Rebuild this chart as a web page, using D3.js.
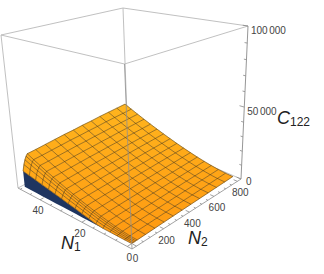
<!DOCTYPE html>
<html>
<head>
<meta charset="utf-8">
<script src="https://cdn.jsdelivr.net/npm/d3@7"></script>
<style>
body { margin: 0; background: #fff; }
text { font-family: "Liberation Sans", sans-serif; fill: #444; font-size: 10px; }
.lab { font-size: 18px; font-style: italic; fill: #222; }
.sub { font-size: 12px; fill: #222; }
</style>
</head>
<body>
<div id="chart"></div>
<script>
// mesh positions
var n1Mesh = [0, 3.125, 6.25, 9.375, 12.5, 15.625, 18.75, 21.875, 25, 28.125, 31.25, 34.375, 37.5, 40.625, 43.75, 46.875, 50];
var n2Mesh = [0, 10, 20, 30, 40, 100, 170, 240, 310, 380, 450, 520, 590, 660, 730, 800];

// C122, one row per n1Mesh entry, one column per n2Mesh entry (estimated)
var c122 = [
  [0, 30, 60, 80, 100, 250, 425, 600, 775, 950, 1125, 1300, 1475, 1650, 1825, 2000],
  [0, 104, 177, 229, 260, 497, 666, 835, 1005, 1172, 1341, 1508, 1677, 1843, 2010, 2177],
  [0, 316, 537, 695, 790, 1017, 1186, 1355, 1523, 1684, 1853, 2015, 2184, 2345, 2506, 2666],
  [0, 604, 1027, 1329, 1510, 1728, 1900, 2074, 2246, 2403, 2575, 2732, 2904, 3062, 3220, 3377],
  [0, 956, 1625, 2103, 2390, 2602, 2781, 2960, 3138, 3294, 3473, 3628, 3807, 3963, 4118, 4272],
  [500, 1668, 2486, 3070, 3420, 3626, 3815, 4004, 4192, 4347, 4535, 4690, 4879, 5033, 5188, 5342],
  [1500, 2732, 3594, 4210, 4580, 4782, 4983, 5184, 5385, 5540, 5741, 5897, 6097, 6252, 6408, 6563],
  [2500, 3844, 4785, 5457, 5860, 6060, 6275, 6491, 6706, 6863, 7079, 7236, 7452, 7608, 7766, 7923],
  [3500, 5004, 6057, 6809, 7260, 7458, 7691, 7923, 8156, 8316, 8549, 8709, 8942, 9101, 9262, 9422],
  [4500, 6208, 7404, 8258, 8770, 8967, 9219, 9472, 9723, 9888, 10139, 10304, 10555, 10720, 10884, 11048],
  [5500, 7448, 8812, 9786, 10370, 10568, 10840, 11114, 11387, 11556, 11829, 11999, 12271, 12441, 12610, 12779],
  [6500, 8728, 10288, 11402, 12070, 12269, 12565, 12862, 13157, 13333, 13629, 13804, 14100, 14276, 14451, 14626],
  [7500, 10048, 11832, 13106, 13870, 14072, 14392, 14714, 15035, 15218, 15538, 15721, 16042, 16225, 16407, 16589],
  [8500, 11408, 13444, 14898, 15770, 15975, 16323, 16672, 17019, 17210, 17558, 17749, 18097, 18287, 18478, 18668],
  [9500, 12808, 15124, 16778, 17770, 17979, 18356, 18734, 19111, 19311, 19688, 19888, 20264, 20464, 20664, 20863],
  [10500, 14236, 16851, 18719, 19840, 20054, 20462, 20870, 21277, 21486, 21894, 22103, 22511, 22721, 22930, 23139],
  [11500, 15700, 18640, 20740, 22000, 22220, 22660, 23100, 23540, 23760, 24200, 24420, 24860, 25080, 25300, 25520]
];

var n1Ticks = [0, 20, 40];
var n2Ticks = [0, 200, 400, 600, 800];
var zTicks = [0, 50000, 100000];
var n1Minor = d3.range(0, 51, 5);
var n2Minor = d3.range(0, 801, 50);
var zMinor = d3.range(0, 100001, 10000);

var width = 324, height = 274;

var svg = d3.select("#chart").append("svg")
    .attr("width", width)
    .attr("height", height);

var uScale = d3.scaleLinear().domain([-2, 51.2]).range([0, 1]);
var vScale = d3.scaleLinear().domain([-32, 832]).range([0, 1]);
var wScale = d3.scaleLinear().domain([0, 100000]).range([0, 1]);

// camera: the box corners on screen, order front, left, back, right
var floorQuad = [[132, 249], [18, 188], [127.5, 130], [241, 179]];
var topQuad = [[124.5, 64], [1, 35], [123, 8], [248, 26]];

function squareToQuad(q) {
    var dx1 = q[1][0] - q[2][0], dx2 = q[3][0] - q[2][0], sx = q[0][0] - q[1][0] + q[2][0] - q[3][0];
    var dy1 = q[1][1] - q[2][1], dy2 = q[3][1] - q[2][1], sy = q[0][1] - q[1][1] + q[2][1] - q[3][1];
    var det = dx1 * dy2 - dx2 * dy1;
    var g = (sx * dy2 - dx2 * sy) / det, h = (dx1 * sy - sx * dy1) / det;
    return function(u, v) {
        var k = g * u + h * v + 1;
        return [
            ((q[1][0] - q[0][0] + g * q[1][0]) * u + (q[3][0] - q[0][0] + h * q[3][0]) * v + q[0][0]) / k,
            ((q[1][1] - q[0][1] + g * q[1][1]) * u + (q[3][1] - q[0][1] + h * q[3][1]) * v + q[0][1]) / k
        ];
    };
}
var floorMap = squareToQuad(floorQuad), topMap = squareToQuad(topQuad);

function project(u, v, w) {
    var a = floorMap(u, v), b = topMap(u, v);
    var t = 0.887 * w / (1 - 0.113 * w); // vertical foreshortening
    return [a[0] + (b[0] - a[0]) * t, a[1] + (b[1] - a[1]) * t];
}
function pt(n1, n2, z) { return project(uScale(n1), vScale(n2), wScale(z)); }

var line = d3.line();
var edge = function(a, b, color, w) {
    svg.append("path").attr("d", line([project.apply(null, a), project.apply(null, b)]))
        .attr("fill", "none").attr("stroke", color).attr("stroke-width", w || 0.9);
};

// box edges behind the surface
var boxGrey = "#b9b9b9";
edge([1, 1, 0], [1, 1, 1], boxGrey);
edge([1, 0, 0], [1, 1, 0], boxGrey);
edge([0, 1, 0], [1, 1, 0], boxGrey);
edge([1, 0, 1], [1, 1, 1], boxGrey);
edge([0, 1, 1], [1, 1, 1], boxGrey);
edge([0, 0, 1], [1, 0, 1], boxGrey);
edge([0, 0, 1], [0, 1, 1], boxGrey);
edge([1, 0, 0], [1, 0, 1], boxGrey);

// underside seen along the n2 = 0 edge
var wall = n1Mesh.map(function(d, i) { return pt(d, n2Mesh[0], c122[i][0]); });
var wallBase = n1Mesh.map(function(d) { return pt(d, n2Mesh[0], 0); }).reverse();
svg.append("path")
    .attr("d", line(wall.concat(wallBase)) + "Z")
    .attr("fill", "#1f3560");

// faces back to front
var shade = d3.scaleLinear().domain([0, 1]).range(["#ff9610", "#ffb61e"]);
var faces = [];
n1Mesh.slice(1).forEach(function(n1, i) {
    n2Mesh.slice(1).forEach(function(n2, j) {
        faces.push({
            depth: uScale(n1) + vScale(n2),
            tone: 0.6 * uScale(n1) + 0.38 * vScale(n2),
            pts: [
                pt(n1Mesh[i], n2Mesh[j], c122[i][j]),
                pt(n1, n2Mesh[j], c122[i + 1][j]),
                pt(n1, n2, c122[i + 1][j + 1]),
                pt(n1Mesh[i], n2, c122[i][j + 1])
            ]
        });
    });
});
faces.sort(function(a, b) { return b.depth - a.depth; });

svg.append("g").selectAll("path")
    .data(faces)
    .enter().append("path")
    .attr("d", function(d) { return line(d.pts) + "Z"; })
    .attr("fill", function(d) { return shade(d.tone); })
    .attr("stroke", function(d) { return shade(d.tone); })
    .attr("stroke-width", 0.4);

// mesh lines
var mesh = svg.append("g").attr("fill", "none").attr("stroke", "#3b2c10")
    .attr("stroke-opacity", 0.62).attr("stroke-width", 0.8);
n1Mesh.forEach(function(n1, i) {
    mesh.append("path").attr("d", line(n2Mesh.map(function(n2, j) { return pt(n1, n2, c122[i][j]); })));
});
n2Mesh.forEach(function(n2, j) {
    mesh.append("path").attr("d", line(n1Mesh.map(function(n1, i) { return pt(n1, n2, c122[i][j]); })));
});

// front edges and the axes
edge([0, 0, 0], [0, 0, 1], "#8f8f8f", 0.8);
edge([0, 0, 0], [1, 0, 0], "#999", 0.9);
edge([0, 0, 0], [0, 1, 0], "#999", 0.9);
edge([0, 1, 0], [0, 1, 1], "#8a8a8a", 0.9);

function tick(a, b) {
    svg.append("path").attr("d", line([a, b])).attr("stroke", "#888").attr("stroke-width", 0.8);
}
n1Minor.forEach(function(d) {
    var len = n1Ticks.indexOf(d) >= 0 ? 0.03 : 0.015;
    tick(project(uScale(d), 0, 0), project(uScale(d), len, 0));
});
n2Minor.forEach(function(d) {
    var len = n2Ticks.indexOf(d) >= 0 ? 0.03 : 0.015;
    tick(project(0, vScale(d), 0), project(len, vScale(d), 0));
});
zMinor.forEach(function(d) {
    var len = zTicks.indexOf(d) >= 0 ? 0.035 : 0.018;
    tick(project(0, 1, wScale(d)), project(len, 1, wScale(d)));
});

// tick labels
n1Ticks.forEach(function(d) {
    var p = project(uScale(d), 0, 0);
    svg.append("text").text(d)
        .attr("x", p[0] + (d === 0 ? 2 : -2)).attr("y", p[1] + 11)
        .attr("dy", "0.35em").attr("text-anchor", "middle");
});
n2Ticks.forEach(function(d) {
    var p = project(0, vScale(d), 0);
    svg.append("text").text(d)
        .attr("x", p[0] + (d === 0 ? -1 : 3)).attr("y", p[1] + (d === 0 ? 12 : 11.5))
        .attr("dy", "0.35em").attr("text-anchor", "middle");
});
var zFormat = function(d) { return d3.format(",")(d).replace(",", " "); };
zTicks.forEach(function(d) {
    var p = project(0, 1, wScale(d));
    svg.append("text").text(zFormat(d))
        .attr("x", p[0] + (d === 0 ? 5 : 3)).attr("y", p[1] + (d === 0 ? 2 : 4))
        .attr("dy", "0.35em").attr("word-spacing", "-1.3px");
});

// axis titles
function title(x, y, name, sub) {
    var t = svg.append("text").attr("x", x).attr("y", y).attr("class", "lab").text(name);
    t.append("tspan").attr("class", "sub").attr("dy", 2).style("font-style", "normal").text(sub);
}
title(61, 249, "N", "1");
title(188, 244, "N", "2");
title(277, 124, "C", "122");
</script>
</body>
</html>
